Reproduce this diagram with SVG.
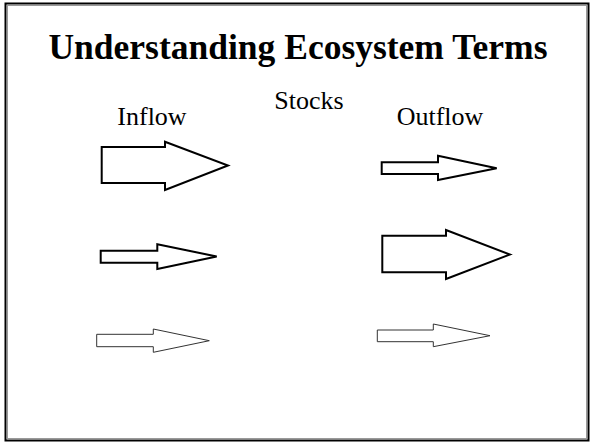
<svg xmlns="http://www.w3.org/2000/svg" width="594" height="445" viewBox="0 0 594 445">
<style>
.t{font-family:"Liberation Serif","Times New Roman",serif;fill:#000}
.thick{fill:#fff;stroke:#000;stroke-width:2;stroke-linejoin:miter}
.thin{fill:#fff;stroke:#333;stroke-width:1}
</style>
<rect x="0" y="0" width="594" height="445" fill="#fff"/>
<rect x="5.5" y="3.5" width="583" height="437" fill="#fff" stroke="#000" stroke-width="2"/>
<rect x="7.5" y="5.5" width="579" height="433" fill="none" stroke="#999" stroke-width="1"/>
<text class="t" x="298" y="59" font-size="35.5" font-weight="bold" text-anchor="middle">Understanding Ecosystem Terms</text>
<text class="t" x="152" y="125" font-size="26" text-anchor="middle">Inflow</text>
<text class="t" x="309" y="109" font-size="26" text-anchor="middle">Stocks</text>
<text class="t" x="440" y="125" font-size="26" text-anchor="middle">Outflow</text>
<g id="inflow1"><polygon class="thick" points="101.7,147 165,147 165,141.7 228,165.5 165,190 165,183 101.7,183"/></g>
<g id="inflow2"><polygon class="thick" points="100.7,250.7 157.3,250.7 157.3,244.3 216.7,256.5 157.3,269 157.3,262.7 100.7,262.7"/></g>
<g id="inflow3"><polygon class="thin" points="96.7,334.3 153.3,334.3 153.3,329 209.3,340.7 153.3,352.3 153.3,346.7 96.7,346.7"/></g>
<g id="outflow1"><polygon class="thick" points="381.7,162.3 438,162.3 438,155.7 496.7,168.3 438,180 438,174 381.7,174"/></g>
<g id="outflow2"><polygon class="thick" points="382.3,235.7 446,235.7 446,230 510,254.5 446,279 446,272.3 382.3,272.3"/></g>
<g id="outflow3"><polygon class="thin" points="377.3,330 433.3,330 433.3,324 490,335.7 433.3,346.7 433.3,341.7 377.3,341.7"/></g>
</svg>
